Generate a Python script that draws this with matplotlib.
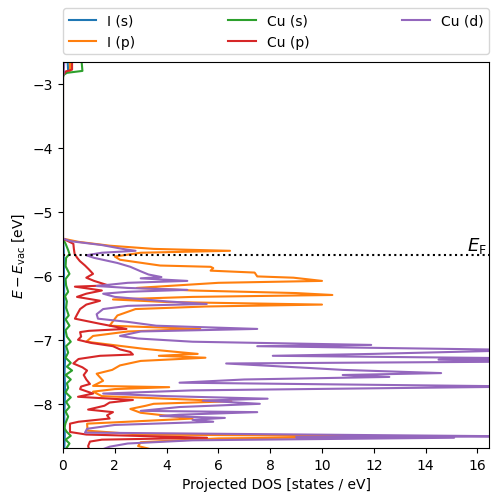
import matplotlib
matplotlib.use("Agg")
import matplotlib.pyplot as plt

# projected DOS, listed as (energy [eV], dos) from the top of the window down
E_FERMI = -5.67

E_I_S = [-2.66, -2.80, -2.83, -2.88, -5.42, -5.60, -6.50, -7.00, -7.30, -7.50, -7.80, -8.20, -8.50, -8.70]
DOS_I_S = [0.18, 0.20, 0.03, 0.0, 0.0, 0.03, 0.05, 0.04, 0.08, 0.06, 0.08, 0.05, 0.07, 0.05]

E_I_P = [-2.66, -2.80, -2.83, -2.87, -5.42, -5.47, -5.53, -5.58, -5.61, -5.64, -5.70, -5.75,
         -5.84, -5.86, -5.88, -5.92, -5.95, -6.01, -6.03, -6.08, -6.11, -6.19, -6.23, -6.27,
         -6.30, -6.33, -6.37, -6.41, -6.45, -6.48, -6.52, -6.62, -6.78, -6.83, -6.87, -6.94,
         -7.03, -7.14, -7.19, -7.22, -7.25, -7.28, -7.33, -7.40, -7.47, -7.53, -7.64, -7.72,
         -7.74, -7.77, -7.81, -7.88, -7.96, -8.00, -8.03, -8.08, -8.14, -8.23, -8.27, -8.31,
         -8.42, -8.48, -8.51, -8.54, -8.60, -8.66, -8.70]
DOS_I_P = [0.27, 0.27, 0.05, 0.0, 0.0, 0.6, 1.8, 3.5, 6.45, 3.0, 2.0, 2.2,
           3.75, 5.7, 5.8, 5.7, 7.4, 7.5, 8.9, 10.0, 6.0, 2.85, 5.0, 9.0,
           10.4, 5.0, 1.93, 4.0, 10.0, 5.5, 2.8, 2.1, 1.8, 5.3, 2.5, 1.16,
           0.9, 3.1, 4.4, 5.2, 3.7, 5.5, 3.0, 2.2, 1.9, 1.3, 1.55, 1.16,
           4.1, 2.0, 1.16, 1.5, 6.5, 3.5, 3.2, 2.6, 3.0, 5.0, 3.0, 0.93,
           0.95, 3.0, 14.0, 6.0, 3.0, 2.9, 3.3]

E_CU_S = [-2.66, -2.80, -2.83, -2.86, -2.90, -5.42, -5.50, -5.60, -5.66, -5.72, -5.85, -5.97,
          -6.05, -6.15, -6.25, -6.32, -6.40, -6.50, -6.62, -6.68, -6.78, -6.85, -6.95, -7.03,
          -7.10, -7.20, -7.28, -7.36, -7.42, -7.48, -7.55, -7.62, -7.68, -7.75, -7.82, -7.90,
          -7.97, -8.05, -8.12, -8.20, -8.30, -8.38, -8.44, -8.50, -8.56, -8.62, -8.70]
DOS_CU_S = [0.72, 0.75, 0.15, 0.03, 0.0, 0.0, 0.1, 0.2, 0.25, 0.12, 0.1, 0.25,
            0.1, 0.12, 0.2, 0.08, 0.15, 0.12, 0.22, 0.1, 0.25, 0.1, 0.15, 0.3,
            0.12, 0.2, 0.1, 0.3, 0.15, 0.35, 0.1, 0.3, 0.15, 0.2, 0.1, 0.3,
            0.12, 0.25, 0.1, 0.2, 0.1, 0.05, 0.15, 0.3, 0.1, 0.25, 0.12]

E_CU_P = [-2.66, -2.78, -2.81, -2.84, -2.87, -5.42, -5.45, -5.50, -5.58, -5.66, -5.72, -5.77,
          -5.84, -5.90, -5.97, -6.03, -6.08, -6.15, -6.17, -6.23, -6.28, -6.33, -6.39, -6.45,
          -6.52, -6.60, -6.67, -6.75, -6.83, -6.86, -6.88, -6.95, -7.00, -7.05, -7.10, -7.15,
          -7.19, -7.23, -7.25, -7.30, -7.37, -7.43, -7.48, -7.55, -7.62, -7.69, -7.73, -7.77,
          -7.84, -7.89, -7.94, -7.98, -8.03, -8.09, -8.13, -8.18, -8.23, -8.28, -8.31, -8.44,
          -8.48, -8.53, -8.56, -8.59, -8.66, -8.70]
DOS_CU_P = [0.35, 0.35, 0.1, 0.05, 0.0, 0.0, 0.15, 0.4, 0.42, 0.45, 0.55, 0.65,
            0.85, 1.0, 1.16, 0.9, 1.2, 1.75, 0.46, 1.5, 0.9, 0.54, 1.43, 0.9,
            0.66, 0.55, 0.46, 1.43, 2.45, 1.0, 0.66, 0.7, 0.58, 1.1, 1.93, 2.2,
            2.6, 2.7, 1.43, 0.6, 0.4, 0.75, 0.93, 0.8, 0.9, 1.04, 0.7, 0.66,
            1.16, 0.58, 2.7, 1.8, 1.6, 0.97, 1.93, 1.7, 1.8, 0.6, 0.27, 0.27,
            0.9, 5.56, 1.5, 1.04, 0.97, 1.0]

E_CU_D = [-2.66, -2.85, -2.88, -5.42, -5.46, -5.52, -5.58, -5.61, -5.64, -5.68, -5.72, -5.80,
          -5.86, -5.93, -5.98, -6.02, -6.04, -6.08, -6.11, -6.16, -6.19, -6.22, -6.25, -6.28,
          -6.33, -6.40, -6.44, -6.47, -6.52, -6.60, -6.67, -6.72, -6.78, -6.83, -6.87, -6.94,
          -6.98, -7.03, -7.08, -7.10, -7.16, -7.22, -7.25, -7.29, -7.31, -7.34, -7.37, -7.44,
          -7.47, -7.52, -7.55, -7.58, -7.62, -7.67, -7.73, -7.79, -7.84, -7.88, -7.92, -7.95,
          -8.00, -8.05, -8.11, -8.13, -8.17, -8.19, -8.22, -8.25, -8.28, -8.33, -8.39, -8.45,
          -8.51, -8.52, -8.53, -8.57, -8.62, -8.67, -8.70]
DOS_CU_D = [0.05, 0.02, 0.0, 0.0, 0.3, 1.5, 2.3, 2.8, 1.5, 0.9, 1.2, 2.1,
            2.6, 3.0, 3.3, 3.8, 3.0, 4.8, 2.5, 1.3, 2.5, 4.8, 2.5, 1.55,
            2.0, 4.0, 5.55, 2.5, 1.55, 1.3, 1.35, 2.5, 3.6, 7.5, 3.0, 2.2,
            2.9, 5.0, 11.9, 7.5, 18.0, 12.0, 8.1, 18.0, 14.5, 18.0, 6.3, 9.5,
            10.8, 14.6, 10.8, 12.6, 7.0, 4.5, 18.0, 5.0, 1.55, 4.0, 7.9, 5.4,
            7.6, 4.5, 3.0, 7.5, 4.5, 3.75, 6.25, 5.0, 5.8, 2.0, 0.93, 0.85,
            18.0, 9.0, 15.1, 5.0, 2.5, 1.8, 1.6]

SERIES = [
    ("I (s)", E_I_S, DOS_I_S),
    ("I (p)", E_I_P, DOS_I_P),
    ("Cu (s)", E_CU_S, DOS_CU_S),
    ("Cu (p)", E_CU_P, DOS_CU_P),
    ("Cu (d)", E_CU_D, DOS_CU_D),
]


def main() -> None:
    fig = plt.figure(figsize=(4.98, 5.02), dpi=100)
    ax = fig.add_axes([0.1265, 0.1056, 0.8555, 0.769])
    for label, energy, dos in SERIES:
        ax.plot(dos, energy, label=label, lw=1.5)
    ax.axhline(E_FERMI, color="k", ls=":", lw=1.5)
    ax.text(16.35, E_FERMI, r"$E_{\rm F}$", ha="right", va="bottom", fontsize=13)

    ax.set_xlim(0, 16.45)
    ax.set_ylim(-8.69, -2.66)
    ax.set_xlabel("Projected DOS [states / eV]")
    ax.set_ylabel(r"$E - E_{\rm vac}$ [eV]")
    ax.legend(bbox_to_anchor=(0, 1.02, 1, 0.2), loc="lower left", mode="expand",
              ncol=3, borderaxespad=0)
    fig.savefig("out.png", dpi=100)
    plt.close(fig)


if __name__ == "__main__":
    main()
